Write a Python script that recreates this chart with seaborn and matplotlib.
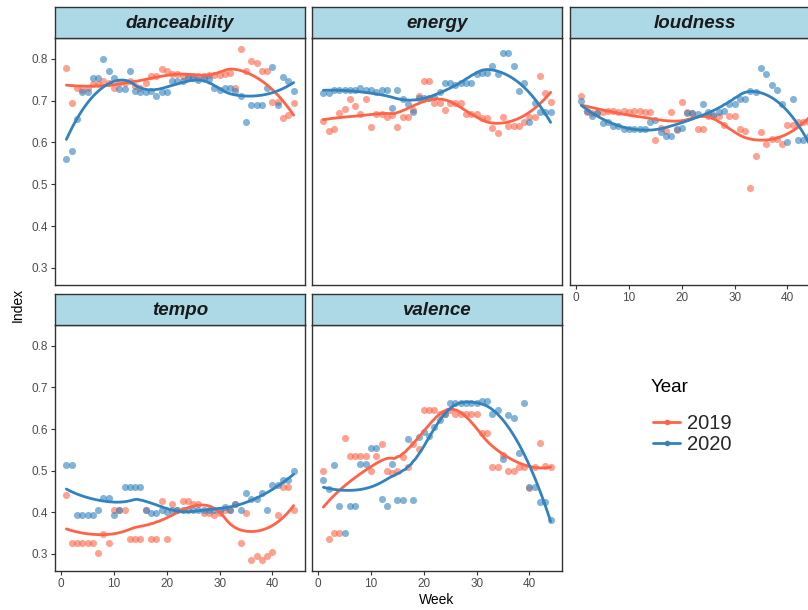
import numpy as np
import pandas as pd
import matplotlib
matplotlib.use("Agg")
import matplotlib.pyplot as plt
from matplotlib.lines import Line2D
import seaborn as sns

weeks = np.arange(1, 45)
years = ["2019", "2020"]
features = ["danceability", "energy", "loudness", "tempo", "valence"]

dance_2019 = [0.779, 0.694, 0.73, 0.726, 0.73, 0.74, 0.74, 0.746, 0.743, 0.73, 0.743, 0.743, 0.748, 0.734, 0.731,
              0.743, 0.758, 0.758, 0.776, 0.772, 0.764, 0.764, 0.76, 0.76, 0.76, 0.76, 0.76, 0.762, 0.762, 0.762,
              0.764, 0.766, 0.731, 0.823, 0.772, 0.796, 0.79, 0.772, 0.772, 0.696, 0.696, 0.658, 0.666, 0.695]
dance_2020 = [0.56, 0.58, 0.657, 0.72, 0.72, 0.755, 0.755, 0.80, 0.77, 0.755, 0.727, 0.727, 0.77, 0.724, 0.72,
              0.72, 0.724, 0.712, 0.72, 0.72, 0.748, 0.748, 0.748, 0.754, 0.754, 0.75, 0.754, 0.752, 0.73, 0.726,
              0.73, 0.73, 0.722, 0.712, 0.648, 0.69, 0.69, 0.69, 0.73, 0.78, 0.69, 0.756, 0.746, 0.724]
energy_2019 = [0.652, 0.628, 0.632, 0.67, 0.68, 0.703, 0.688, 0.668, 0.703, 0.638, 0.668, 0.668, 0.662, 0.665, 0.636,
               0.662, 0.662, 0.678, 0.711, 0.746, 0.746, 0.694, 0.694, 0.678, 0.695, 0.695, 0.695, 0.668, 0.668, 0.668,
               0.658, 0.658, 0.634, 0.622, 0.66, 0.64, 0.64, 0.64, 0.65, 0.662, 0.662, 0.758, 0.718, 0.698]
energy_2020 = [0.719, 0.719, 0.726, 0.726, 0.726, 0.726, 0.726, 0.731, 0.726, 0.726, 0.72, 0.726, 0.726, 0.682, 0.726,
               0.704, 0.692, 0.672, 0.706, 0.706, 0.706, 0.708, 0.72, 0.742, 0.742, 0.738, 0.742, 0.742, 0.742, 0.763,
               0.766, 0.766, 0.782, 0.763, 0.814, 0.814, 0.782, 0.722, 0.742, 0.648, 0.694, 0.674, 0.674, 0.674]
loud_2019 = [0.711, 0.674, 0.67, 0.67, 0.674, 0.676, 0.676, 0.674, 0.676, 0.674, 0.676, 0.676, 0.672, 0.672, 0.605,
             0.634, 0.628, 0.672, 0.63, 0.696, 0.672, 0.67, 0.632, 0.632, 0.664, 0.664, 0.664, 0.642, 0.664, 0.664,
             0.632, 0.628, 0.49, 0.568, 0.624, 0.596, 0.608, 0.608, 0.596, 0.642, 0.642, 0.648, 0.648, 0.648]
loud_2020 = [0.70, 0.676, 0.664, 0.67, 0.646, 0.65, 0.64, 0.64, 0.632, 0.632, 0.632, 0.632, 0.632, 0.65, 0.654,
             0.626, 0.616, 0.616, 0.632, 0.634, 0.67, 0.67, 0.668, 0.692, 0.674, 0.666, 0.674, 0.676, 0.692, 0.692,
             0.704, 0.704, 0.723, 0.72, 0.778, 0.764, 0.738, 0.726, 0.692, 0.602, 0.704, 0.605, 0.605, 0.616]
tempo_2019 = [0.442, 0.327, 0.327, 0.327, 0.327, 0.327, 0.302, 0.349, 0.327, 0.406, 0.406, 0.406, 0.335, 0.335, 0.335,
              0.406, 0.335, 0.335, 0.427, 0.335, 0.421, 0.406, 0.427, 0.427, 0.421, 0.421, 0.399, 0.399, 0.393, 0.399,
              0.406, 0.406, 0.42, 0.327, 0.399, 0.286, 0.294, 0.286, 0.294, 0.305, 0.393, 0.462, 0.462, 0.406]
tempo_2020 = [0.513, 0.513, 0.393, 0.393, 0.393, 0.393, 0.406, 0.435, 0.435, 0.393, 0.406, 0.462, 0.462, 0.462, 0.462,
              0.406, 0.399, 0.399, 0.406, 0.40, 0.406, 0.406, 0.406, 0.406, 0.406, 0.406, 0.406, 0.406, 0.406, 0.406,
              0.413, 0.406, 0.421, 0.406, 0.446, 0.432, 0.432, 0.446, 0.406, 0.465, 0.465, 0.477, 0.477, 0.499]
valence_2019 = [0.499, 0.336, 0.35, 0.35, 0.578, 0.535, 0.535, 0.535, 0.535, 0.499, 0.535, 0.563, 0.499, 0.495, 0.499,
                0.532, 0.508, 0.563, 0.553, 0.646, 0.646, 0.646, 0.635, 0.636, 0.646, 0.636, 0.636, 0.636, 0.636, 0.636,
                0.59, 0.59, 0.51, 0.51, 0.537, 0.50, 0.50, 0.51, 0.51, 0.458, 0.51, 0.566, 0.512, 0.51]
valence_2020 = [0.478, 0.457, 0.514, 0.415, 0.351, 0.415, 0.415, 0.515, 0.515, 0.555, 0.555, 0.432, 0.415, 0.515, 0.43,
                0.43, 0.577, 0.43, 0.58, 0.592, 0.583, 0.606, 0.622, 0.636, 0.663, 0.663, 0.663, 0.663, 0.663, 0.663,
                0.667, 0.667, 0.636, 0.645, 0.527, 0.633, 0.627, 0.543, 0.663, 0.46, 0.46, 0.424, 0.424, 0.382]

series = {
    "danceability": {"2019": dance_2019, "2020": dance_2020},
    "energy": {"2019": energy_2019, "2020": energy_2020},
    "loudness": {"2019": loud_2019, "2020": loud_2020},
    "tempo": {"2019": tempo_2019, "2020": tempo_2020},
    "valence": {"2019": valence_2019, "2020": valence_2020},
}

rows = []
for f in features:
    for yr in years:
        for w, v in zip(weeks, series[f][yr]):
            rows.append((f, yr, w, v))
df = pd.DataFrame(rows, columns=["feature", "Year", "Week", "Index"])


def loess(x, y, xs, span=0.75, deg=2):
    x = np.asarray(x, float)
    y = np.asarray(y, float)
    n = len(x)
    q = int(np.floor(n * span))
    out = []
    for x0 in xs:
        d = np.abs(x - x0)
        h = np.sort(d)[q - 1] * max(1.0, span)
        w = np.clip(1 - (d / h) ** 3, 0, None) ** 3
        X = np.vander(x - x0, deg + 1)
        W = np.sqrt(w)
        beta, *_ = np.linalg.lstsq(X * W[:, None], y * W, rcond=None)
        out.append(beta[-1])
    return np.array(out)


grid = np.linspace(1, 44, 120)
srows = []
for f in features:
    for yr in years:
        sub = df[(df.feature == f) & (df.Year == yr)]
        fit = loess(sub.Week, sub.Index, grid, span=0.65)
        for gx, gy in zip(grid, fit):
            srows.append((f, yr, gx, gy))
sdf = pd.DataFrame(srows, columns=["feature", "Year", "Week", "Index"])

sns.set_theme(style="white")
plt.rcParams["font.family"] = ["Liberation Sans", "DejaVu Sans"]

palette = {"2019": "#FF6347", "2020": "#3182BD"}
W, H = 808, 610
fig = plt.figure(figsize=(W / 100, H / 100), dpi=100)

col_left = [55, 312, 570]
pw = 250
row_panel = [(38, 285), (325, 571)]
strip_h = 31
layout = {"danceability": (0, 0), "energy": (0, 1), "loudness": (0, 2), "tempo": (1, 0), "valence": (1, 1)}

ylim = (0.259, 0.85)
xlim = (-1.15, 46.15)
border = "#333333"

for f in features:
    r, c = layout[f]
    top, bot = row_panel[r]
    left = col_left[c]
    ax = fig.add_axes([left / W, (H - bot) / H, pw / W, (bot - top) / H])
    sub = df[df.feature == f]
    ssub = sdf[sdf.feature == f]
    for yr in years:
        sns.scatterplot(data=sub[sub.Year == yr], x="Week", y="Index", color=palette[yr], alpha=0.6,
                        s=26, linewidth=0, ax=ax, legend=False, zorder=2)
    for yr in years:
        sns.lineplot(data=ssub[ssub.Year == yr], x="Week", y="Index", color=palette[yr], linewidth=2.0,
                     ax=ax, legend=False, zorder=3, estimator=None)
    ax.set_xlim(*xlim)
    ax.set_ylim(*ylim)
    ax.set_xticks([0, 10, 20, 30, 40])
    ax.set_yticks([0.3, 0.4, 0.5, 0.6, 0.7, 0.8])
    ax.set_xlabel("")
    ax.set_ylabel("")
    for s in ax.spines.values():
        s.set_color(border)
        s.set_linewidth(1.0)
        s.set_visible(True)
    show_x = (r == 1) or (f == "loudness")
    show_y = (c == 0)
    ax.tick_params(axis="x", bottom=show_x, labelbottom=show_x, length=3, width=0.8, color=border,
                   labelsize=8.5, labelcolor="#4D4D4D", pad=2)
    ax.tick_params(axis="y", left=show_y, labelleft=show_y, length=3, width=0.8, color=border,
                   labelsize=8.5, labelcolor="#4D4D4D", pad=2)
    ax.yaxis.set_major_formatter(matplotlib.ticker.FormatStrFormatter("%.1f"))
    ax.grid(False)
    # strip
    sax = fig.add_axes([left / W, (H - top) / H, pw / W, strip_h / H])
    sax.set_facecolor("#ADD8E6")
    sax.set_xticks([])
    sax.set_yticks([])
    for s in sax.spines.values():
        s.set_color(border)
        s.set_linewidth(1.0)
    sax.text(0.5, 0.48, f, transform=sax.transAxes, ha="center", va="center", fontsize=13.5,
             fontweight="bold", fontstyle="italic", color="#1A1A1A")

fig.text(18 / W, 1 - 305 / H, "Index", rotation=90, ha="center", va="center", fontsize=10, color="black")
fig.text(437 / W, 1 - 600 / H, "Week", ha="center", va="center", fontsize=10, color="black")

fig.text(651 / W, 1 - 388 / H, "Year", ha="left", va="center", fontsize=13.5, color="black")
handles = [Line2D([0], [0], color=palette[yr], linewidth=2.0, marker="o", markersize=4,
                  markerfacecolor=palette[yr], markeredgewidth=0, alpha=1.0) for yr in years]
leg = fig.legend(handles, years, loc="upper left", bbox_to_anchor=(645 / W, 1 - 406 / H),
                 frameon=False, fontsize=14.5, handlelength=1.35, handletextpad=0.35,
                 labelspacing=0.12, borderaxespad=0.0)

fig.savefig("out.png", dpi=100)
